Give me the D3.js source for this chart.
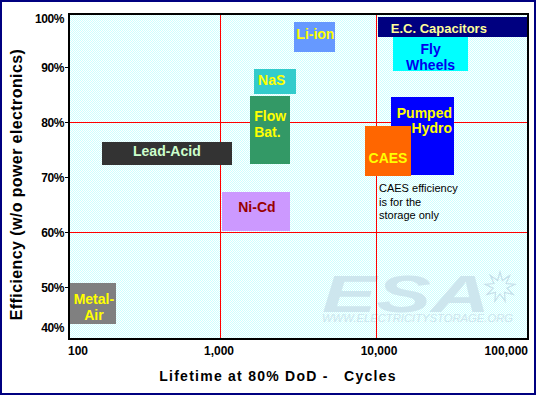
<!DOCTYPE html>
<html><head><meta charset="utf-8">
<script src="https://cdn.jsdelivr.net/npm/d3@7"></script>
<style>
html,body{margin:0;padding:0;background:#fff;}
svg{display:block;}
text{font-family:Arial,"Liberation Sans",sans-serif;}
</style></head><body>
<svg id="chart" width="538" height="397"></svg>
<script>
// ---------------- data ----------------
const technologies = ["Lead-Acid","NaS","Flow Bat.","Li-ion","Fly Wheels","E.C. Capacitors","Pumped Hydro","CAES","Ni-Cd","Metal-Air"];
const labelLines = [["Lead-Acid"],["NaS"],["Flow","Bat."],["Li-ion"],["Fly","Wheels"],["E.C. Capacitors"],["Pumped","Hydro"],["CAES"],["Ni-Cd"],["Metal-","Air"]];
const cyclesLow  = [174, 1640, 1550, 2960, 12800, 10200, 12400, 8440, 1020, 108];
const cyclesHigh = [1180, 3050, 2790, 5400, 38600, 92600, 31400, 16640, 2790, 214];
const effLow  = [72.3, 85.2, 72.4, 92.8, 89.4, 95.6, 70.5, 70.3, 60.3, 43.3];
const effHigh = [76.5, 89.7, 84.8, 98.3, 95.6, 99.2, 84.6, 79.4, 67.3, 50.8];
const xTickValues = [100, 1000, 10000, 100000];
const xTickLabels = ["100","1,000","10,000","100,000"];
const yTickValues = [100, 90, 80, 70, 60, 50, 40];
const yTickLabels = ["100%","90%","80%","70%","60%","50%","40%"];
const gridCycles = [1000, 10000];
const gridEff = [80, 60];
const noteLines = ["CAES efficiency","is for the","storage only"];
const noteCycles = 10000, noteEff = 67.3;
const xTitle = "Lifetime at 80% DoD -   Cycles";
const yTitle = "Efficiency (w/o power electronics)";
const watermarkLogo = "ESA";
const watermarkUrl = "WWW.ELECTRICITYSTORAGE.ORG";

// ---------------- styles ----------------
const boxStyle = {
  "Lead-Acid":      {fill:"#333333", color:"#ccffcc", anchor:"middle", dx:0,  dy:-2},
  "NaS":            {fill:"#33cccc", color:"#ffff00", anchor:"start",  dx:4,  dy:-2},
  "Flow Bat.":      {fill:"#339966", color:"#ffff00", anchor:"start",  dx:4,  dy:-6},
  "Li-ion":         {fill:"#6699ff", color:"#ffff00", anchor:"middle", dx:1,  dy:-2.5},
  "Fly Wheels":     {fill:"#00ffff", color:"#0000ee", anchor:"middle", dx:0,  dy:3},
  "E.C. Capacitors":{fill:"#000080", color:"#ffff99", anchor:"start",  dx:13, dy:1, size:13},
  "Pumped Hydro":   {fill:"#0000ff", color:"#ffff00", anchor:"end",    dx:-2, dy:-15.5},
  "CAES":           {fill:"#ff6600", color:"#ffff00", anchor:"middle", dx:0,  dy:7},
  "Ni-Cd":          {fill:"#cc99ff", color:"#990000", anchor:"middle", dx:1,  dy:-5},
  "Metal-Air":      {fill:"#808080", color:"#ffff00", anchor:"middle", dx:1,  dy:3}
};

// ---------------- layout ----------------
const svg = d3.select("#chart");
const plot = {left:69, top:14, right:528, bottom:339};
const x = d3.scaleLog().domain([100, 100000]).range([64.5, 532.5]);
const y = d3.scaleLinear().domain([40, 100]).range([342.5, 12.5]);

// outer border
svg.append("rect").attr("x",1).attr("y",1).attr("width",534).attr("height",393)
  .attr("fill","#fff").attr("stroke","#000080").attr("stroke-width",2);

// background pattern
const defs = svg.append("defs");
const pat = defs.append("pattern").attr("id","dots").attr("width",2).attr("height",2)
  .attr("patternUnits","userSpaceOnUse");
pat.append("rect").attr("width",2).attr("height",2).attr("fill","#ffffff");
pat.append("rect").attr("x",0).attr("y",0).attr("width",1).attr("height",1).attr("fill","#ccffff");
pat.append("rect").attr("x",1).attr("y",1).attr("width",1).attr("height",1).attr("fill","#ccffff");

svg.append("rect").attr("x",plot.left).attr("y",plot.top)
  .attr("width",plot.right-plot.left).attr("height",plot.bottom-plot.top)
  .attr("fill","url(#dots)");

// watermark
const wm = svg.append("g").attr("fill","#cde6ee");
const starC = [500, 287];
const starPts = d3.range(18).map(i => {
  const a = i * Math.PI / 9 - Math.PI/2;
  const r = i % 2 ? 7 : 15;
  return [starC[0] + r*Math.cos(a), starC[1] + r*Math.sin(a)];
});
wm.append("polygon").attr("points", starPts.map(p=>p.join(",")).join(" "))
  .attr("fill","none").attr("stroke","#c6e0ea").attr("stroke-width",1.2);
const wmText = wm.append("text").attr("font-style","italic");
wmText.append("tspan").attr("x",322).attr("y",311.5)
  .attr("font-size",51).attr("font-weight","bold")
  .attr("textLength",168).attr("lengthAdjust","spacingAndGlyphs").text(watermarkLogo);
wmText.append("tspan").attr("x",322).attr("y",321.5)
  .attr("font-size",10.5).attr("font-weight","normal")
  .attr("textLength",191).attr("lengthAdjust","spacingAndGlyphs").text(watermarkUrl);

// grid lines
svg.append("g").selectAll("line").data(gridCycles).join("line")
  .attr("x1", d => Math.floor(x(d))+0.5).attr("x2", d => Math.floor(x(d))+0.5)
  .attr("y1", plot.top).attr("y2", plot.bottom)
  .attr("stroke","#ff0000").attr("stroke-width",1);
svg.append("g").selectAll("line").data(gridEff).join("line")
  .attr("x1", 65).attr("x2", plot.right)
  .attr("y1", d => Math.floor(y(d))+0.5).attr("y2", d => Math.floor(y(d))+0.5)
  .attr("stroke","#ff0000").attr("stroke-width",1);

// boxes
const rows = technologies.map((name,i) => ({
  name, lines: labelLines[i],
  x0: cyclesLow[i], x1: cyclesHigh[i], y0: effLow[i], y1: effHigh[i]
}));
const boxes = svg.append("g").selectAll("g").data(rows).join("g");
boxes.append("rect")
  .attr("x", d => Math.round(x(d.x0)))
  .attr("y", d => Math.round(y(d.y1)))
  .attr("width", d => Math.round(x(d.x1)) - Math.round(x(d.x0)))
  .attr("height", d => Math.round(y(d.y0)) - Math.round(y(d.y1)))
  .attr("fill", d => boxStyle[d.name].fill);
const lineH = 15.7;
boxes.append("text")
  .attr("font-weight","bold")
  .attr("font-size", d => boxStyle[d.name].size || 14)
  .attr("fill", d => boxStyle[d.name].color)
  .attr("text-anchor", d => boxStyle[d.name].anchor)
  .each(function(d){
    const s = boxStyle[d.name];
    const x0 = x(d.x0), x1 = x(d.x1);
    const tx = s.anchor === "start" ? x0 + s.dx : s.anchor === "end" ? x1 + s.dx : (x0+x1)/2 + s.dx;
    const cy = (y(d.y0)+y(d.y1))/2 + s.dy;
    const n = d.lines.length;
    d3.select(this).selectAll("tspan").data(d.lines).join("tspan")
      .attr("x", tx)
      .attr("y", (l,k) => cy + (k - (n-1)/2)*lineH + 5)
      .text(l => l);
  });

// annotation
svg.append("text").attr("font-size",11).attr("fill","#000")
  .selectAll("tspan").data(noteLines).join("tspan")
  .attr("x", x(noteCycles) + 2.5)
  .attr("y", (l,k) => y(noteEff) + k*13.2)
  .text(l => l);

// plot frame
svg.append("rect").attr("x",plot.left).attr("y",plot.top)
  .attr("width",plot.right-plot.left).attr("height",plot.bottom-plot.top)
  .attr("fill","none").attr("stroke","#000").attr("stroke-width",2);

// y ticks
const yt = svg.append("g");
yt.selectAll("line").data(yTickValues.filter(v => v>40 && v<100)).join("line")
  .attr("x1",65).attr("x2",plot.left)
  .attr("y1", d => Math.floor(y(d))+0.5).attr("y2", d => Math.floor(y(d))+0.5)
  .attr("stroke","#000");
yt.selectAll("text").data(yTickValues).join("text")
  .attr("x", 64).attr("text-anchor","end")
  .attr("y", d => Math.max(22.7, Math.min(332.3, y(d) + 4)))
  .attr("font-size",12).attr("font-weight","bold").attr("letter-spacing","-0.4")
  .attr("fill","#000")
  .text((d,i) => yTickLabels[i]);

// x tick labels
svg.append("g").selectAll("text").data(xTickValues).join("text")
  .attr("x", (d,i) => i===0 ? plot.left-1 : i===xTickValues.length-1 ? plot.right : x(d) + (i===2 ? 2.5 : -1.5))
  .attr("text-anchor", (d,i) => i===0 ? "start" : i===xTickValues.length-1 ? "end" : "middle")
  .attr("y", 355)
  .attr("font-size",12).attr("font-weight","bold").attr("fill","#000")
  .text((d,i) => xTickLabels[i]);

// axis titles
svg.append("text").attr("x",278).attr("y",381)
  .attr("text-anchor","middle").attr("font-size",14).attr("font-weight","bold")
  .attr("letter-spacing","1.25").style("white-space","pre").attr("fill","#000")
  .text(xTitle);
svg.append("text").attr("transform","translate(22,184.5) rotate(-90)")
  .attr("text-anchor","middle").attr("font-size",16).attr("font-weight","bold")
  .attr("letter-spacing","0.4").attr("fill","#000")
  .text(yTitle);
</script>
</body></html>
